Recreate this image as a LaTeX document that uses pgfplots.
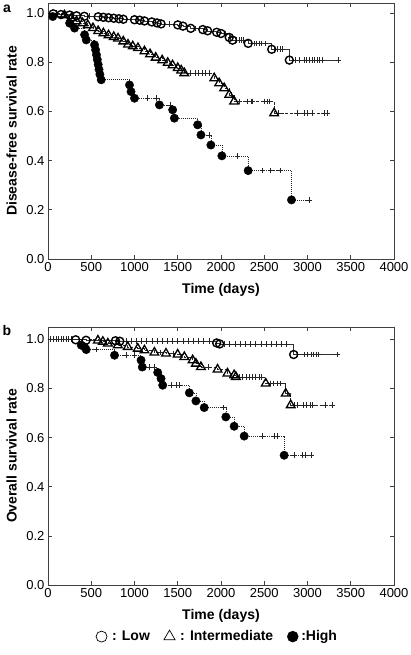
\documentclass[border=0pt]{standalone}
\usepackage{fontspec}
\setmainfont{Liberation Sans}
\usepackage{pgfplots}
\pgfplotsset{compat=1.18}
\begin{document}
\begin{tikzpicture}
\path[use as bounding box] (0pt,0pt) rectangle (410pt,655pt);
\pgfplotsset{
  km/.style={
    scale only axis, width=346pt,
    xmin=0, xmax=4000, ymin=0,
    xtick={0,500,...,4000}, ytick={0,0.2,...,1.0},
    tick align=inside, major tick length=4pt,
    axis line style={black!75, line width=0.8pt},
    every tick/.style={black!75, line width=0.6pt},
    /pgf/number format/assume math mode=true,
    /pgf/number format/1000 sep={},
    yticklabel style={/pgf/number format/.cd, fixed, fixed zerofill, precision=1},
    ticklabel style={font=\fontsize{13}{15}\selectfont},
    label style={font=\bfseries\fontsize{14}{16}\selectfont},
    xlabel style={at={(axis description cs:0.5,-0.12)}, anchor=center},
    ylabel style={at={(axis description cs:-0.105,0.5)}, anchor=center, rotate=0},
    clip=false,
  },
  lowline/.style={const plot, black!80, line width=0.6pt, forget plot},
  midline/.style={const plot, black!85, line width=0.6pt, dash pattern=on 3pt off 1.5pt, forget plot},
  highline/.style={const plot, black!85, line width=0.6pt, dash pattern=on 1pt off 1pt, forget plot},
  lowmark/.style={only marks, mark=o, mark size=4pt, mark options={black, fill=white, line width=1.4pt}, forget plot},
  midmark/.style={only marks, mark=triangle, mark size=5pt, mark options={black, fill=white, line width=1.3pt}, forget plot},
  highmark/.style={only marks, mark=*, mark size=4.2pt, mark options={black, fill=black}, forget plot},
  cens/.style={only marks, mark=+, mark size=2.8pt, mark options={black!85, line width=0.55pt}, forget plot},
}
% ---------------- panel a ----------------
\begin{axis}[km, at={(48pt,396pt)}, anchor=south west, height=256pt, ymax=1.04,
  xlabel={Time (days)}, ylabel={Disease-free survival rate}]
% Low
\addplot[lowline] coordinates {(0,1.0)(60,0.996)(150,0.993)(250,0.991)(330,0.988)(420,0.986)(580,0.984)(640,0.982)(700,0.980)(760,0.978)(820,0.976)(870,0.974)(1000,0.972)(1060,0.970)(1115,0.967)(1200,0.963)(1260,0.959)(1307,0.955)(1500,0.951)(1560,0.946)(1650,0.937)(1790,0.932)(1845,0.927)(1950,0.921)(2000,0.916)(2095,0.900)(2133,0.889)(2314,0.876)(2586,0.852)(2790,0.808)(3350,0.808)};
\addplot[cens] coordinates {(200,0.993)(480,0.986)(900,0.974)(1400,0.955)(1700,0.937)(2050,0.916)(2110,0.900)(2180,0.889)(2210,0.889)(2240,0.889)(2260,0.889)(2380,0.876)(2410,0.876)(2440,0.876)(2470,0.876)(2510,0.876)(2620,0.852)(2650,0.852)(2680,0.852)(2710,0.852)(2860,0.808)(2900,0.808)(2960,0.808)(2990,0.808)(3020,0.808)(3050,0.808)(3080,0.808)(3110,0.808)(3140,0.808)(3170,0.808)(3350,0.808)};
% Intermediate
\addplot[midline] coordinates {(0,1.0)(190,0.990)(270,0.978)(330,0.966)(400,0.958)(460,0.950)(520,0.938)(580,0.926)(640,0.917)(700,0.909)(760,0.902)(810,0.896)(870,0.884)(925,0.871)(980,0.864)(1040,0.857)(1115,0.844)(1180,0.832)(1245,0.818)(1320,0.807)(1384,0.797)(1440,0.787)(1500,0.776)(1540,0.766)(1576,0.755)(1922,0.734)(1979,0.714)(2037,0.694)(2095,0.667)(2152,0.640)(2614,0.592)(3228,0.592)};
\addplot[cens] coordinates {(100,1.0)(1650,0.755)(1700,0.755)(1740,0.755)(1780,0.755)(1820,0.755)(1860,0.755)(2120,0.667)(2210,0.640)(2300,0.640)(2345,0.640)(2365,0.640)(2500,0.640)(2540,0.640)(2555,0.640)(2660,0.592)(2880,0.592)(2960,0.592)(3000,0.592)(3055,0.592)(3190,0.592)(3228,0.592)};
% High
\addplot[highline] coordinates {(0,1.0)(55,0.985)(250,0.958)(307,0.938)(423,0.911)(442,0.890)(538,0.870)(550,0.850)(560,0.830)(570,0.810)(580,0.790)(590,0.770)(600,0.750)(615,0.728)(942,0.707)(960,0.680)(1000,0.653)(1288,0.626)(1441,0.606)(1461,0.572)(1730,0.545)(1768,0.504)(1883,0.463)(2010,0.419)(2314,0.359)(2815,0.240)(3017,0.240)};
\addplot[cens] coordinates {(150,0.985)(1150,0.653)(1250,0.653)(1410,0.626)(1865,0.504)(2190,0.419)(2480,0.359)(2575,0.359)(2680,0.359)(3017,0.240)};
% event marks
\addplot[lowmark] coordinates {(60,0.996)(150,0.993)(250,0.991)(330,0.988)(420,0.986)(580,0.984)(640,0.982)(700,0.980)(760,0.978)(820,0.976)(870,0.974)(1000,0.972)(1060,0.970)(1115,0.967)(1200,0.963)(1260,0.959)(1307,0.955)(1500,0.951)(1560,0.946)(1650,0.937)(1790,0.932)(1845,0.927)(1950,0.921)(2000,0.916)(2095,0.900)(2133,0.889)(2314,0.876)(2586,0.852)(2790,0.808)};
\addplot[midmark] coordinates {(190,0.990)(270,0.978)(330,0.966)(400,0.958)(460,0.950)(520,0.938)(580,0.926)(640,0.917)(700,0.909)(760,0.902)(810,0.896)(870,0.884)(925,0.871)(980,0.864)(1040,0.857)(1115,0.844)(1180,0.832)(1245,0.818)(1320,0.807)(1384,0.797)(1440,0.787)(1500,0.776)(1540,0.766)(1576,0.755)(1922,0.734)(1979,0.714)(2037,0.694)(2095,0.667)(2152,0.640)(2614,0.592)};
\addplot[highmark] coordinates {(55,0.985)(250,0.958)(307,0.938)(423,0.911)(442,0.890)(538,0.870)(550,0.850)(560,0.830)(570,0.810)(580,0.790)(590,0.770)(600,0.750)(615,0.728)(942,0.707)(960,0.680)(1000,0.653)(1288,0.626)(1441,0.606)(1461,0.572)(1730,0.545)(1768,0.504)(1883,0.463)(2010,0.419)(2314,0.359)(2815,0.240)};
\end{axis}
% ---------------- panel b ----------------
\begin{axis}[km, at={(48pt,70pt)}, anchor=south west, height=258pt, ymax=1.05,
  xlabel={Time (days)}, ylabel={Overall survival rate},
  legend style={at={(axis description cs:0.49,-0.2)}, anchor=center, draw=none, fill=none,
    font=\bfseries\fontsize{14}{16}\selectfont, legend columns=3,
    /tikz/every even column/.append style={column sep=12pt}}]
% Low
\addplot[lowline] coordinates {(0,1.0)(320,0.998)(440,0.996)(780,0.994)(830,0.992)(1950,0.985)(1985,0.981)(2840,0.938)(3340,0.938)};
\addplot[cens] coordinates {(30,1)(60,1)(90,1)(120,1)(150,1)(180,1)(210,1)(240,1)(270,1)(900,0.992)(960,0.992)(1020,0.992)(1080,0.992)(1140,0.992)(1200,0.992)(1260,0.992)(1320,0.992)(1380,0.992)(1440,0.992)(1500,0.992)(1560,0.992)(1620,0.992)(1680,0.992)(1740,0.992)(1800,0.992)(1860,0.992)(2040,0.981)(2100,0.981)(2160,0.981)(2220,0.981)(2280,0.981)(2340,0.981)(2400,0.981)(2460,0.981)(2520,0.981)(2580,0.981)(2640,0.981)(2700,0.981)(2760,0.981)(2880,0.938)(2960,0.938)(3000,0.938)(3040,0.938)(3070,0.938)(3100,0.938)(3130,0.938)(3340,0.938)};
% Intermediate
\addplot[midline] coordinates {(0,1.0)(577,0.995)(634,0.990)(692,0.983)(807,0.976)(922,0.969)(1038,0.962)(1115,0.955)(1230,0.946)(1364,0.942)(1499,0.938)(1576,0.928)(1672,0.915)(1710,0.901)(1768,0.887)(1960,0.877)(2075,0.861)(2152,0.854)(2172,0.847)(2517,0.820)(2748,0.779)(2806,0.732)(3286,0.732)};
\addplot[cens] coordinates {(1300,0.946)(1450,0.942)(1850,0.887)(2210,0.847)(2250,0.847)(2290,0.847)(2330,0.847)(2360,0.847)(2400,0.847)(2440,0.847)(2470,0.847)(2570,0.820)(2610,0.820)(2650,0.820)(2690,0.820)(2770,0.779)(2850,0.732)(2880,0.732)(2950,0.732)(2990,0.732)(3030,0.732)(3060,0.732)(3200,0.732)(3286,0.732)};
% High
\addplot[highline] coordinates {(0,1.0)(384,0.976)(423,0.969)(442,0.958)(769,0.935)(1076,0.915)(1090,0.887)(1268,0.865)(1307,0.840)(1326,0.813)(1634,0.782)(1710,0.749)(1806,0.722)(2056,0.684)(2152,0.646)(2268,0.606)(2730,0.528)(3060,0.528)};
\addplot[cens] coordinates {(557,0.958)(900,0.935)(1000,0.935)(1170,0.887)(1230,0.887)(1420,0.813)(1480,0.813)(1520,0.813)(2030,0.722)(2480,0.606)(2615,0.606)(2650,0.606)(2845,0.528)(2940,0.528)(2980,0.528)(3040,0.528)};
% event marks
\addplot[lowmark] coordinates {(320,0.998)(440,0.996)(780,0.994)(830,0.992)(1950,0.985)(1985,0.981)(2840,0.938)};
\addplot[midmark] coordinates {(577,0.995)(634,0.990)(692,0.983)(807,0.976)(922,0.969)(1038,0.962)(1115,0.955)(1230,0.946)(1364,0.942)(1499,0.938)(1576,0.928)(1672,0.915)(1710,0.901)(1768,0.887)(1960,0.877)(2075,0.861)(2152,0.854)(2172,0.847)(2517,0.820)(2748,0.779)(2806,0.732)};
\addplot[highmark] coordinates {(384,0.976)(423,0.969)(442,0.958)(769,0.935)(1076,0.915)(1090,0.887)(1268,0.865)(1307,0.840)(1326,0.813)(1634,0.782)(1710,0.749)(1806,0.722)(2056,0.684)(2152,0.646)(2268,0.606)(2730,0.528)};
% legend
\addlegendimage{only marks, mark=o, mark size=5.5pt, mark options={black, line width=0.7pt}}
\addlegendentry{\hspace{3pt}: Low}
\addlegendimage{only marks, mark=triangle, mark size=6.5pt, mark options={black, line width=0.7pt}}
\addlegendentry{\hspace{3pt}: Intermediate}
\addlegendimage{only marks, mark=*, mark size=5.5pt, mark options={black, fill=black}}
\addlegendentry{\hspace{1pt}:High}
\end{axis}
\node[font=\bfseries\fontsize{14}{16}\selectfont, anchor=center] at (7pt,646pt) {a};
\node[font=\bfseries\fontsize{14}{16}\selectfont, anchor=center] at (7pt,324pt) {b};
\end{tikzpicture}
\end{document}
